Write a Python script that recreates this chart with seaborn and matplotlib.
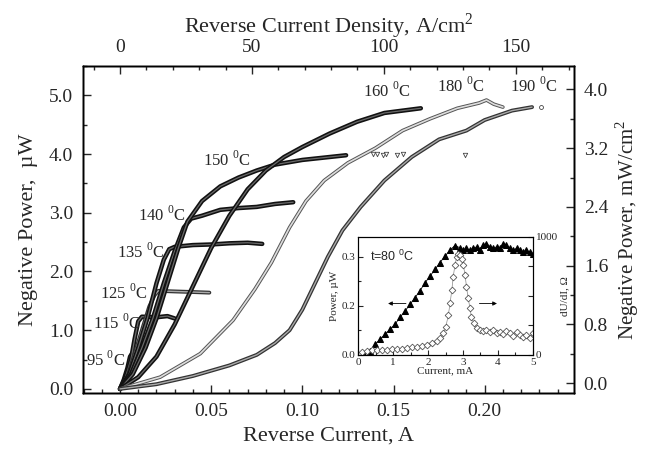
import matplotlib
matplotlib.use("Agg")
import matplotlib.pyplot as plt
import matplotlib.patheffects as pe
from matplotlib.ticker import MultipleLocator, FixedLocator, FormatStrFormatter
import pandas as pd
import seaborn as sns

# ---- main panel: negative power (uW) vs reverse current (A) ----
cur_95 = [0, 0.002, 0.004, 0.0055, 0.007, 0.009, 0.012]
pow_95 = [0, 0.15, 0.35, 0.55, 0.62, 0.61, 0.62]

cur_115 = [0, 0.003, 0.006, 0.008, 0.010, 0.012, 0.02, 0.026, 0.030]
pow_115 = [0, 0.2, 0.5, 0.85, 1.15, 1.23, 1.22, 1.24, 1.20]

cur_125 = [0, 0.004, 0.008, 0.012, 0.016, 0.019, 0.021, 0.03, 0.04, 0.049]
pow_125 = [0, 0.2, 0.6, 1.0, 1.4, 1.6, 1.67, 1.66, 1.65, 1.64]

cur_135 = [0, 0.005, 0.010, 0.015, 0.020, 0.024, 0.027, 0.030, 0.040, 0.050, 0.060, 0.070, 0.078]
pow_135 = [0, 0.25, 0.7, 1.2, 1.8, 2.2, 2.38, 2.42, 2.45, 2.46, 2.48, 2.49, 2.47]

cur_140 = [0, 0.006, 0.012, 0.018, 0.024, 0.030, 0.035, 0.039, 0.045, 0.055, 0.065, 0.075, 0.085, 0.095]
pow_140 = [0, 0.25, 0.7, 1.2, 1.8, 2.35, 2.75, 2.9, 2.95, 3.05, 3.08, 3.1, 3.15, 3.18]

cur_150 = [0, 0.007, 0.014, 0.020, 0.026, 0.032, 0.037, 0.045, 0.055, 0.065, 0.075, 0.085, 0.100, 0.115, 0.124]
pow_150 = [0, 0.25, 0.7, 1.2, 1.8, 2.4, 2.85, 3.2, 3.45, 3.6, 3.72, 3.82, 3.9, 3.95, 3.98]

cur_160 = [0, 0.010, 0.020, 0.030, 0.040, 0.050, 0.060, 0.070, 0.080, 0.090, 0.100, 0.115, 0.130, 0.145, 0.165]
pow_160 = [0, 0.2, 0.55, 1.1, 1.75, 2.4, 2.95, 3.4, 3.72, 3.95, 4.12, 4.35, 4.55, 4.7, 4.78]

cur_180 = [0, 0.022, 0.044, 0.062, 0.074, 0.083, 0.093, 0.102, 0.112, 0.125, 0.140, 0.155, 0.170, 0.185, 0.197, 0.201, 0.205, 0.210]
pow_180 = [0, 0.2, 0.6, 1.17, 1.7, 2.15, 2.75, 3.2, 3.55, 3.85, 4.1, 4.4, 4.6, 4.78, 4.87, 4.92, 4.85, 4.8]

cur_190 = [0, 0.020, 0.040, 0.060, 0.075, 0.085, 0.093, 0.100, 0.107, 0.114, 0.122, 0.132, 0.145, 0.160, 0.175, 0.190, 0.200, 0.215, 0.226]
pow_190 = [0, 0.08, 0.22, 0.4, 0.58, 0.78, 1.0, 1.35, 1.8, 2.25, 2.7, 3.1, 3.55, 3.95, 4.25, 4.4, 4.58, 4.74, 4.8]

# stray points beyond the end of the 150 C and 190 C runs
stray_150_cur = [0.139, 0.141, 0.144, 0.146, 0.152, 0.155, 0.189]
stray_150_pow = [4.0, 4.0, 3.99, 4.0, 3.99, 4.0, 3.98]
stray_190_cur = [0.231]
stray_190_pow = [4.8]

# ---- inset: t = 80 C ----
ins_cur_pow = [0.16, 0.35, 0.49, 0.64, 0.78, 0.92, 1.06, 1.20, 1.35, 1.49, 1.63, 1.77, 1.92,
               2.06, 2.20, 2.34, 2.49, 2.63, 2.77, 2.91, 3.01, 3.10, 3.20, 3.29, 3.39, 3.48,
               3.58, 3.67, 3.77, 3.86, 3.96, 4.05, 4.15, 4.24, 4.34, 4.43, 4.53, 4.62, 4.72,
               4.81, 4.91, 5.0]
ins_power = [0.0, 0.013, 0.033, 0.049, 0.064, 0.079, 0.094, 0.115, 0.135, 0.155, 0.175, 0.196,
             0.221, 0.241, 0.261, 0.282, 0.302, 0.32, 0.334, 0.327, 0.32, 0.325, 0.32, 0.325,
             0.33, 0.32, 0.335, 0.34, 0.33, 0.325, 0.33, 0.325, 0.34, 0.335, 0.325, 0.32, 0.325,
             0.32, 0.314, 0.32, 0.314, 0.309]

ins_cur_res = [0.11, 0.26, 0.40, 0.54, 0.68, 0.83, 0.97, 1.11, 1.25, 1.39, 1.54, 1.68, 1.82,
               1.96, 2.11, 2.25, 2.34, 2.44, 2.51, 2.58, 2.63, 2.68, 2.72, 2.77, 2.82, 2.87,
               2.91, 2.96, 3.01, 3.06, 3.10, 3.15, 3.20, 3.24, 3.31, 3.39, 3.48, 3.58, 3.67,
               3.77, 3.86, 3.96, 4.05, 4.15, 4.24, 4.34, 4.43, 4.53, 4.62, 4.72, 4.81, 4.91, 5.0]
ins_res = [23, 34, 39, 42, 42, 45, 48, 51, 54, 59, 65, 70, 79, 87, 101, 118, 141, 183, 239,
           338, 437, 549, 662, 761, 831, 859, 851, 817, 761, 676, 577, 479, 394, 324, 268, 231,
           211, 203, 211, 192, 211, 183, 197, 175, 203, 183, 163, 192, 169, 155, 169, 146, 183]

# unit conversions of the secondary axes
DENSITY_PER_AMP = 691.0     # A/cm^2 per A
MWCM2_PER_UW = 0.8          # mW/cm^2 per uW

sns.set_style("ticks")
plt.rcParams["font.family"] = ["Liberation Serif", "DejaVu Serif"]
plt.rcParams["mathtext.fontset"] = "custom"
plt.rcParams["mathtext.rm"] = "Liberation Serif"
plt.rcParams["mathtext.sf"] = "Liberation Sans"

fig = plt.figure(figsize=(6.48, 4.49), dpi=100)
ax = fig.add_axes([0.1281, 0.1247, 0.7577, 0.7283])

dark = dict(out="#111111", inn="#6a6a6a", w_out=3.2, w_in=0.9)
grey = dict(out="#555555", inn="#dddddd", w_out=2.6, w_in=1.2)
mid = dict(out="#333333", inn="#aaaaaa", w_out=2.8, w_in=1.0)

curves = [
    (cur_95, pow_95, dark), (cur_115, pow_115, dark), (cur_125, pow_125, mid),
    (cur_135, pow_135, dark), (cur_140, pow_140, dark), (cur_150, pow_150, dark),
    (cur_160, pow_160, dark), (cur_180, pow_180, grey), (cur_190, pow_190, mid),
]
for xs, ys, st in curves:
    sns.lineplot(x=xs, y=ys, ax=ax, sort=False, estimator=None, color=st["out"],
                 path_effects=[pe.Stroke(linewidth=st["w_out"], foreground=st["out"]),
                               pe.Stroke(linewidth=st["w_in"], foreground=st["inn"])])

sns.scatterplot(x=stray_150_cur, y=stray_150_pow, ax=ax, marker="v", s=10,
                facecolor="white", edgecolor="#444444", linewidth=0.6)
sns.scatterplot(x=stray_190_cur, y=stray_190_pow, ax=ax, marker="o", s=8,
                facecolor="white", edgecolor="#444444", linewidth=0.6)

# temperature labels
temp_labels = ["95", "115", "125", "135", "140", "150", "160", "180", "190"]
label_xy = [(-0.0185, 0.49), (-0.0148, 1.12), (-0.011, 1.63), (-0.0016, 2.33),
            (0.0099, 2.96), (0.0455, 3.9), (0.133, 5.08), (0.174, 5.16), (0.214, 5.16)]
for t, (lx, ly) in zip(temp_labels, label_xy):
    ax.text(lx, ly, t + r" $^{\mathrm{0}}$C", fontsize=12, ha="left", va="center")

ax.set_xlim(-0.0203, 0.249)
ax.set_ylim(-0.07, 5.5)
ax.xaxis.set_major_locator(MultipleLocator(0.05))
ax.xaxis.set_minor_locator(MultipleLocator(0.01))
ax.xaxis.set_major_formatter(FormatStrFormatter("%.2f"))
ax.yaxis.set_major_locator(MultipleLocator(1.0))
ax.yaxis.set_minor_locator(MultipleLocator(0.5))
ax.yaxis.set_major_formatter(FormatStrFormatter("%.1f"))
ax.tick_params(which="both", direction="in", labelsize=14, pad=7)
ax.tick_params(which="major", length=6, width=1)
ax.tick_params(which="minor", length=3, width=1)
ax.set_xlabel("Reverse Current, A", fontsize=16, labelpad=5)
ax.set_ylabel("Negative Power,  \u00b5W", fontsize=16, labelpad=8)

# right axis: power density
axr = ax.twinx()
lo, hi = ax.get_ylim()
axr.set_ylim((lo - 0.1) * MWCM2_PER_UW, (hi - 0.1) * MWCM2_PER_UW)
axr.yaxis.set_major_locator(MultipleLocator(0.8))
axr.yaxis.set_minor_locator(MultipleLocator(0.4))
axr.yaxis.set_major_formatter(FormatStrFormatter("%.1f"))
axr.tick_params(which="both", direction="in", labelsize=14, pad=7)
axr.tick_params(which="major", length=6, width=1)
axr.tick_params(which="minor", length=3, width=1)
axr.set_ylabel(r"Negative Power, mW/cm$^{\mathrm{2}}$", fontsize=15, labelpad=4)

# top axis: current density
axt = ax.twiny()
x0, x1 = ax.get_xlim()
axt.set_xlim(x0 * DENSITY_PER_AMP, x1 * DENSITY_PER_AMP)
axt.xaxis.set_major_locator(MultipleLocator(50))
axt.xaxis.set_minor_locator(MultipleLocator(10))
axt.tick_params(which="both", direction="in", labelsize=14, pad=7)
axt.tick_params(which="major", length=6, width=1)
axt.tick_params(which="minor", length=3, width=1)
axt.set_xlabel(r"Reverse Current Density, A/cm$^{\mathrm{2}}$", fontsize=16, labelpad=5)

for a in (ax, axr, axt):
    for sp in a.spines.values():
        sp.set_linewidth(1.0)
        sp.set_color("black")

# ---- inset ----
ins = fig.add_axes([0.5525, 0.2094, 0.270, 0.2628])
ins.set_facecolor("white")
ins.set_zorder(5)
sns.lineplot(x=ins_cur_pow, y=ins_power, ax=ins, sort=False, estimator=None,
             color="black", lw=0.6, marker="^", markersize=4.2,
             markerfacecolor="black", markeredgecolor="black")
ins.set_xlim(0, 5)
ins.set_ylim(0, 0.36)
ins_yticks = [0.0, 0.15, 0.3]
ins_yticklabels = ["0.0", "0.2", "0.3"]
ins.yaxis.set_major_locator(FixedLocator(ins_yticks))
ins.set_yticklabels(ins_yticklabels)
ins.yaxis.set_minor_locator(MultipleLocator(0.075))
ins.xaxis.set_major_locator(MultipleLocator(1))
ins.xaxis.set_minor_locator(MultipleLocator(0.5))
ins.tick_params(which="both", direction="in", labelsize=8, pad=2)
ins.tick_params(which="major", length=3.5, width=0.8)
ins.tick_params(which="minor", length=2, width=0.8)
ins.set_xlabel("Current, mA", fontsize=8, labelpad=0)
ins.set_ylabel("Power, \u00b5W", fontsize=8, labelpad=2)
ins.text(0.35, 0.30, r"t=80 $^{\mathsf{0}}$C", fontsize=9, family="Liberation Sans",
         ha="left", va="center")
ins.annotate("", xy=(0.78, 0.157), xytext=(1.45, 0.157),
             arrowprops=dict(arrowstyle="-|>", lw=0.6, color="black",
                             mutation_scale=6))

insr = ins.twinx()
insr.set_zorder(6)
sns.lineplot(x=ins_cur_res, y=ins_res, ax=insr, sort=False, estimator=None,
             color="#888888", lw=0.5, marker="D", markersize=3.4,
             markerfacecolor="white", markeredgecolor="#555555", markeredgewidth=0.6)
insr.set_ylim(0, 1000)
insr.yaxis.set_major_locator(FixedLocator([0, 1000]))
insr.yaxis.set_minor_locator(FixedLocator([250, 500, 750]))
insr.tick_params(which="both", direction="in", labelsize=8, pad=2)
insr.tick_params(which="major", length=3.5, width=0.8)
insr.tick_params(which="minor", length=3.5, width=0.8)
insr.set_ylabel("dU/dI, \u03a9", fontsize=8, labelpad=2)
insr.annotate("", xy=(4.05, 0.157 / 0.36 * 1000), xytext=(3.39, 0.157 / 0.36 * 1000),
              arrowprops=dict(arrowstyle="-|>", lw=0.6, color="black",
                              mutation_scale=6))
for a in (ins, insr):
    for sp in a.spines.values():
        sp.set_linewidth(0.8)
        sp.set_color("black")

fig.savefig("out.png", dpi=100)
